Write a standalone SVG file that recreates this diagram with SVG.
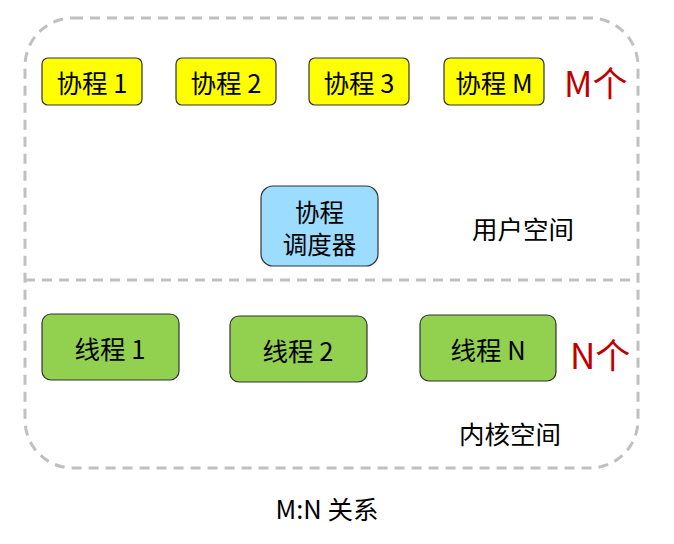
<svg xmlns="http://www.w3.org/2000/svg" width="674" height="544" viewBox="0 0 674 544">
<style>
text{font-family:"Noto Sans CJK SC","Liberation Sans",sans-serif;fill:#000;}
.t{font-size:25.5px;text-anchor:middle;dominant-baseline:central;}
.s{font-size:24.5px;text-anchor:middle;dominant-baseline:central;}
.y{fill:#ffff00;stroke:#333;stroke-width:1.2;}
.b{fill:#9bdcff;stroke:#333;stroke-width:1.2;}
.g{fill:#92d050;stroke:#333;stroke-width:1.2;}
.d{fill:none;stroke:#c0c0c0;stroke-width:3;stroke-dasharray:10 7;}
.r{font-size:35px;fill:#c00000;dominant-baseline:central;}
</style>
<g id="frame">
<rect class="d" x="25" y="18" width="613" height="450" rx="48"/>
<line class="d" x1="25" y1="280" x2="638" y2="280"/>
</g>
<g id="c1"><rect class="y" x="42" y="58" width="100" height="47" rx="6"/><text class="t" x="92" y="81">协程 1</text></g>
<g id="c2"><rect class="y" x="176" y="58" width="100" height="47" rx="6"/><text class="t" x="226" y="81">协程 2</text></g>
<g id="c3"><rect class="y" x="309" y="58" width="100" height="47" rx="6"/><text class="t" x="359" y="81">协程 3</text></g>
<g id="cM"><rect class="y" x="444" y="58" width="100" height="47" rx="6"/><text class="t" x="494" y="81">协程 M</text></g>
<text class="r" x="564" y="81">M个</text>
<g id="sched"><rect class="b" x="261" y="186" width="117" height="80" rx="12"/><text class="s" x="319.5" y="211">协程</text><text class="s" x="319.5" y="243">调度器</text></g>
<text class="t" x="523" y="227">用户空间</text>
<g id="t1"><rect class="g" x="42" y="314" width="137" height="66" rx="9"/><text class="t" x="110" y="347">线程 1</text></g>
<g id="t2"><rect class="g" x="230" y="316" width="137" height="66" rx="9"/><text class="t" x="298" y="349">线程 2</text></g>
<g id="tN"><rect class="g" x="420" y="315" width="136" height="66" rx="9"/><text class="t" x="488" y="348">线程 N</text></g>
<text class="r" x="570" y="353">N个</text>
<text class="t" x="510" y="432">内核空间</text>
<text class="t" x="327" y="507">M:N 关系</text>
</svg>
